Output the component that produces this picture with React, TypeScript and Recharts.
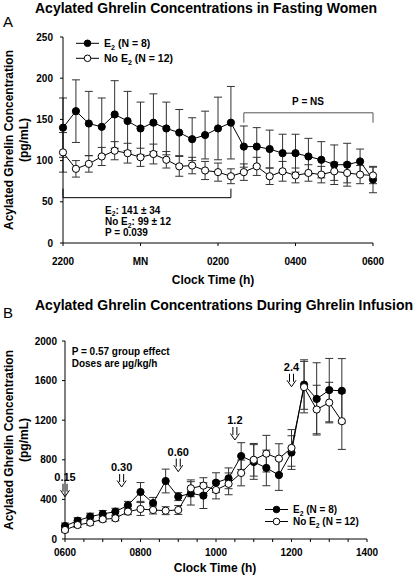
import React from 'react';
import { LineChart, Line, XAxis, YAxis, ErrorBar, ReferenceLine, ReferenceDot } from 'recharts';

const FONT = '"Liberation Sans", Arial, Helvetica, sans-serif';

// ---------- Panel A: fasting (minutes after 2200) ----------
const timesA = [0, 20, 40, 60, 80, 100, 120, 140, 160, 180, 200, 220, 240, 260, 280, 300, 320, 340, 360, 380, 400, 420, 440, 460, 480];
const e2A = [140, 160, 145, 141, 156, 148, 139, 146, 139, 134, 126, 131, 139, 146, 117, 117, 114, 109, 109, 105, 101, 95, 95, 99, 77];
const e2AErr = [36, 38, 39, 35, 41, 36, 32, 35, 32, 28, 26, 29, 38, 44, 25, 23, 23, 23, 23, 22, 22, 24, 26, 15, 16];
const noE2A = [110, 90, 96, 105, 112, 109, 104, 108, 101, 93, 94, 88, 86, 81, 86, 93, 81, 87, 82, 85, 83, 87, 85, 83, 82];
const noE2AErr = [24, 10, 10, 11, 11, 12, 11, 12, 10, 12, 10, 11, 11, 9, 10, 11, 10, 12, 9, 10, 10, 11, 12, 11, 10];
const ticksA = [0, 120, 240, 360, 480];
const tickLabelsA = ['2200', 'MN', '0200', '0400', '0600'];
const yTicksA = [0, 50, 100, 150, 200, 250];

// ---------- Panel B: infusion (minutes after 0600) ----------
const timesB = [0, 20, 40, 60, 80, 100, 120, 140, 160, 180, 200, 220, 240, 260, 280, 300, 320, 340, 360, 380, 400, 420, 440];
const e2B = [131, 185, 226, 253, 276, 340, 475, 363, 586, 428, 461, 438, 569, 613, 838, 778, 718, 646, 873, 1560, 1415, 1504, 1497];
const e2BErr = [30, 30, 35, 35, 35, 40, 95, 57, 120, 40, 118, 130, 100, 105, 135, 175, 180, 155, 170, 250, 365, 320, 325];
const noE2B = [91, 141, 165, 199, 209, 276, 303, 293, 286, 293, 512, 539, 495, 557, 667, 800, 862, 812, 920, 1534, 1308, 1378, 1190];
const noE2BErr = [20, 25, 25, 25, 25, 30, 65, 40, 40, 45, 85, 80, 90, 110, 130, 165, 185, 150, 185, 260, 245, 205, 285];
const ticksB = [0, 30, 60, 90, 120, 150, 180, 210, 240, 270, 300, 330, 360, 390, 420, 450, 480];
const majorTicksB = [0, 120, 240, 360, 480];
const tickLabelsB = ['0600', '0800', '1000', '1200', '1400'];
const yTicksB = [0, 400, 800, 1200, 1600, 2000];

// dose arrows
const doseTimes = [0, 90, 180, 270, 360];
const doseLabels = ['0.15', '0.30', '0.60', '1.2', '2.4'];
const doseArrowTips = [427, 525, 680, 1000, 1538];

const rowsA = timesA.map((t, i) => ({ t, e2: e2A[i], e2Err: e2AErr[i], no: noE2A[i], noErr: noE2AErr[i] }));
const rowsB = timesB.map((t, i) => ({ t, e2: e2B[i], e2Err: e2BErr[i], no: noE2B[i], noErr: noE2BErr[i] }));

const tickStyle = { fontSize: 10, fontWeight: 'bold' as const, fill: '#000', fontFamily: FONT };

const ArrowShape = (label: string) => (props: any) => {
  const { cx, cy } = props;
  if (cx == null || cy == null) return <g />;
  const top = cy - 13;
  return (
    <g>
      <text x={cx} y={cy - 16} textAnchor="middle" fontSize={11} fontWeight="bold" fontFamily={FONT} fill="#000">
        {label}
      </text>
      <path
        d={`M${cx - 2},${top} L${cx - 2},${cy - 5} M${cx + 2},${top} L${cx + 2},${cy - 5} M${cx - 4.5},${cy - 6.5} L${cx},${cy} L${cx + 4.5},${cy - 6.5}`}
        stroke="#000"
        strokeWidth={1}
        fill="none"
      />
    </g>
  );
};

const YLabel = (line1: string, line2: string) => (props: any) => {
  const vb = props.viewBox || {};
  const cy = vb.y + vb.height / 2;
  return (
    <g>
      <text transform={`translate(12.5,${cy}) rotate(-90)`} textAnchor="middle" fontSize={12} fontWeight="bold" fontFamily={FONT} fill="#000">
        {line1}
      </text>
      <text transform={`translate(27.5,${cy}) rotate(-90)`} textAnchor="middle" fontSize={12} fontWeight="bold" fontFamily={FONT} fill="#000">
        {line2}
      </text>
    </g>
  );
};

const XLabel = (text: string, cx: number, dy: number) => (props: any) => {
  const vb = props.viewBox || {};
  return (
    <text x={cx} y={vb.y + dy} textAnchor="middle" fontSize={12} fontWeight="bold" fontFamily={FONT} fill="#000">
      {text}
    </text>
  );
};

// text with subscript "2" after E
const ETwo = ({ x, y, size, pre, post, anchor }: any) => (
  <text x={x} y={y} fontSize={size} fontWeight="bold" fontFamily={FONT} fill="#000" textAnchor={anchor || 'start'}>
    {pre}E
    <tspan dy={size * 0.28} fontSize={size * 0.68}>2</tspan>
    <tspan dy={-size * 0.28}>{post}</tspan>
  </text>
);

const LegendRow = ({ x, y, filled, pre, post, size }: any) => (
  <g>
    <line x1={x} x2={x + 23} y1={y} y2={y} stroke="#000" strokeWidth={1} />
    <circle cx={x + 11.5} cy={y} r={3.3} fill={filled ? '#000' : '#fff'} stroke="#000" strokeWidth={1} />
    <ETwo x={x + 28} y={y + size * 0.36} size={size} pre={pre} post={post} />
  </g>
);

export default function App() {
  return (
    <div style={{ position: 'absolute', left: 0, top: 0, width: 417, height: 576, background: '#fff', fontFamily: FONT }}>
      <div style={{ position: 'absolute', left: 0, top: 0 }}>
        <LineChart width={417} height={290} data={rowsA} margin={{ top: 37, right: 44, bottom: 0, left: 0 }}>
          <XAxis
            dataKey="t"
            type="number"
            domain={[0, 480]}
            ticks={ticksA}
            tickFormatter={(v: number) => tickLabelsA[ticksA.indexOf(v)] ?? ''}
            tick={tickStyle}
            tickSize={3}
            tickMargin={12}
            height={47}
            axisLine={{ stroke: '#000' }}
            tickLine={{ stroke: '#000' }}
            label={{ content: XLabel('Clock Time (h)', 213, 41) }}
          />
          <YAxis
            type="number"
            domain={[0, 250]}
            ticks={yTicksA}
            tick={tickStyle}
            tickSize={3}
            tickMargin={7}
            width={63}
            axisLine={{ stroke: '#000' }}
            tickLine={{ stroke: '#000' }}
            label={{ content: YLabel('Acylated Ghrelin Concentration', '(pg/mL)') }}
          />
          <ReferenceLine segment={[{ x: 0, y: 55 }, { x: 260, y: 55 }]} stroke="#000" ifOverflow="visible" />
          <ReferenceLine segment={[{ x: 0, y: 55 }, { x: 0, y: 66 }]} stroke="#000" ifOverflow="visible" />
          <ReferenceLine segment={[{ x: 260, y: 55 }, { x: 260, y: 66 }]} stroke="#000" ifOverflow="visible" />
          <ReferenceLine segment={[{ x: 280, y: 158 }, { x: 480, y: 158 }]} stroke="#555" ifOverflow="visible" />
          <ReferenceLine segment={[{ x: 280, y: 158 }, { x: 280, y: 146 }]} stroke="#555" ifOverflow="visible" />
          <ReferenceLine segment={[{ x: 480, y: 158 }, { x: 480, y: 146 }]} stroke="#555" ifOverflow="visible" />
          <Line dataKey="e2" stroke="#000" strokeWidth={1} isAnimationActive={false}
            dot={{ r: 3.6, fill: '#000', stroke: '#000', strokeWidth: 1 }}>
            <ErrorBar dataKey="e2Err" direction="y" width={4} stroke="#333" strokeWidth={1} />
          </Line>
          <Line dataKey="no" stroke="#000" strokeWidth={1} isAnimationActive={false}
            dot={{ r: 3.6, fill: '#fff', stroke: '#000', strokeWidth: 1 }}>
            <ErrorBar dataKey="noErr" direction="y" width={4} stroke="#333" strokeWidth={1} />
          </Line>
        </LineChart>
      </div>
      <div style={{ position: 'absolute', left: 0, top: 288 }}>
        <LineChart width={417} height={288} data={rowsB} margin={{ top: 53, right: 50, bottom: 0, left: 0 }}>
          <XAxis
            dataKey="t"
            type="number"
            domain={[0, 480]}
            ticks={ticksB}
            interval={0}
            tickFormatter={(v: number) => (majorTicksB.indexOf(v) >= 0 ? tickLabelsB[majorTicksB.indexOf(v)] : '')}
            tick={tickStyle}
            tickSize={3}
            tickMargin={7}
            height={37}
            axisLine={{ stroke: '#000' }}
            tickLine={{ stroke: '#000' }}
            label={{ content: XLabel('Clock Time (h)', 215, 33) }}
          />
          <YAxis
            type="number"
            domain={[0, 2000]}
            ticks={yTicksB}
            tick={tickStyle}
            tickSize={3}
            tickMargin={5}
            width={65}
            axisLine={{ stroke: '#000' }}
            tickLine={{ stroke: '#000' }}
            label={{ content: YLabel('Acylated Ghrelin Concentration', '(pg/mL)') }}
          />
          {doseTimes.map((t, i) => (
            <ReferenceDot key={i} x={t} y={doseArrowTips[i]} r={0} ifOverflow="visible" shape={ArrowShape(doseLabels[i])} />
          ))}
          <Line dataKey="e2" stroke="#000" strokeWidth={1} isAnimationActive={false}
            dot={{ r: 3.6, fill: '#000', stroke: '#000', strokeWidth: 1 }}>
            <ErrorBar dataKey="e2Err" direction="y" width={4} stroke="#333" strokeWidth={1} />
          </Line>
          <Line dataKey="no" stroke="#000" strokeWidth={1} isAnimationActive={false}
            dot={{ r: 3.6, fill: '#fff', stroke: '#000', strokeWidth: 1 }}>
            <ErrorBar dataKey="noErr" direction="y" width={4} stroke="#333" strokeWidth={1} />
          </Line>
        </LineChart>
      </div>
      <svg width={417} height={576} style={{ position: 'absolute', left: 0, top: 0, pointerEvents: 'none' }}>
        <text x={35} y={12.7} fontSize={14} fontWeight="bold" fontFamily={FONT} fill="#000">
          Acylated Ghrelin Concentrations in Fasting Women
        </text>
        <text x={3} y={26.7} fontSize={15} fontFamily={FONT} fill="#000">A</text>
        <text x={35} y={310} fontSize={14} fontWeight="bold" fontFamily={FONT} fill="#000">
          Acylated Ghrelin Concentrations During Ghrelin Infusion
        </text>
        <text x={3} y={318.3} fontSize={15} fontFamily={FONT} fill="#000">B</text>

        <LegendRow x={76} y={43.3} filled pre="" post=" (N = 8)" size={10.5} />
        <LegendRow x={76} y={58.3} filled={false} pre="No " post=" (N = 12)" size={10.5} />

        <ETwo x={105} y={213.6} size={10} pre="" post=": 141 ± 34" />
        <ETwo x={105} y={225} size={10} pre="No " post=": 99 ± 12" />
        <text x={105} y={236.3} fontSize={10} fontWeight="bold" fontFamily={FONT} fill="#000">
          P = 0.039
        </text>
        <text x={308} y={105.3} textAnchor="middle" fontSize={10} fontWeight="bold" fontFamily={FONT} fill="#000">
          P = NS
        </text>

        <text x={71.7} y={355.3} fontSize={10} fontWeight="bold" fontFamily={FONT} fill="#000">
          P = 0.57 group effect
        </text>
        <text x={71.7} y={367.3} fontSize={10} fontWeight="bold" fontFamily={FONT} fill="#000">
          Doses are µg/kg/h
        </text>

        <LegendRow x={265} y={509.5} filled pre="" post=" (N = 8)" size={10} />
        <LegendRow x={265} y={521.5} filled={false} pre="No " post=" (N = 12)" size={10} />
      </svg>
    </div>
  );
}
